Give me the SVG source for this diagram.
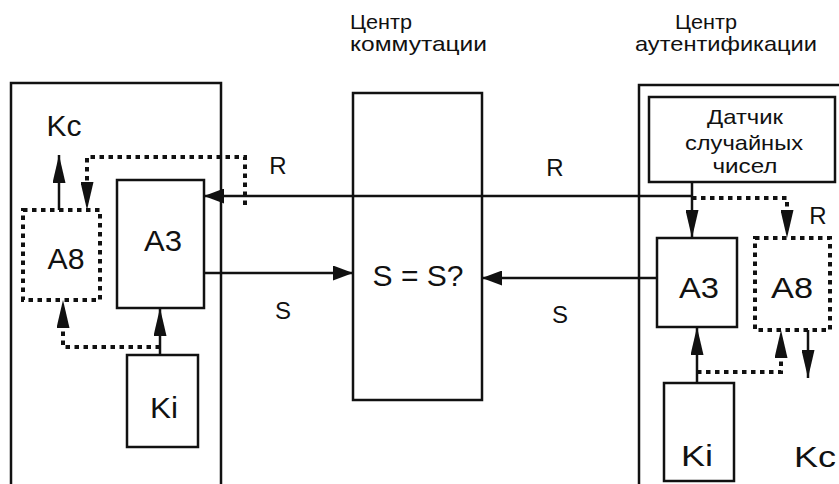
<svg xmlns="http://www.w3.org/2000/svg" width="839" height="484" viewBox="0 0 839 484">
<style>
text{font-family:"Liberation Sans",Arial,sans-serif;fill:#111}
.t{font-size:21px}
.b{font-size:29px;text-anchor:middle}
.l{font-size:24px;text-anchor:middle}
.box{fill:none;stroke:#111;stroke-width:2.5}
.dot{fill:none;stroke:#111;stroke-width:4;stroke-dasharray:4.5 4.5}
.ln{fill:none;stroke:#111;stroke-width:2.5}
.dl{fill:none;stroke:#111;stroke-width:4;stroke-dasharray:4.5 4.5}
</style>
<defs>
<marker id="ah" viewBox="0 0 20 15" markerWidth="20" markerHeight="15" refX="20" refY="7.5" orient="auto" markerUnits="userSpaceOnUse"><path d="M0,0 L20,7.5 L0,15 z" fill="#111"/></marker>
<marker id="av" viewBox="0 0 28 13" markerWidth="28" markerHeight="13" refX="28" refY="6.5" orient="auto" markerUnits="userSpaceOnUse"><path d="M0,0 L28,6.5 L0,13 z" fill="#111"/></marker>
<marker id="avd" viewBox="0 0 28 13" markerWidth="28" markerHeight="13" refX="0" refY="6.5" orient="auto" markerUnits="userSpaceOnUse"><path d="M0,0 L28,6.5 L0,13 z" fill="#111"/></marker>
</defs>
<rect width="839" height="484" fill="#fff"/>

<g id="titles">
<text class="t" x="350" y="29" textLength="62" lengthAdjust="spacingAndGlyphs">Центр</text>
<text class="t" x="350" y="51" textLength="137" lengthAdjust="spacingAndGlyphs">коммутации</text>
<text class="t" x="675" y="29" textLength="62" lengthAdjust="spacingAndGlyphs">Центр</text>
<text class="t" x="635" y="51" textLength="182" lengthAdjust="spacingAndGlyphs">аутентификации</text>
</g>

<g id="mobile-frame"><path class="box" d="M11,490 V83 H221 V490"/></g>
<g id="auc-frame"><path class="box" d="M639,490 V85 H845"/></g>

<g id="left-a3"><rect class="box" x="117" y="180" width="87" height="128"/><text class="b" x="163" y="251" textLength="38" lengthAdjust="spacingAndGlyphs">A3</text></g>
<g id="left-a8"><rect class="dot" x="23" y="210" width="77" height="90"/><text class="b" x="66" y="269" textLength="37" lengthAdjust="spacingAndGlyphs">A8</text></g>
<g id="left-ki"><rect class="box" x="127" y="355" width="71" height="92"/><text class="b" x="164" y="418" textLength="28" lengthAdjust="spacingAndGlyphs">Ki</text></g>
<g id="left-kc"><text class="b" x="64" y="136" textLength="35" lengthAdjust="spacingAndGlyphs">Kc</text></g>

<g id="msc"><rect class="box" x="353" y="93" width="129" height="307"/><text x="418" y="286" font-size="30" text-anchor="middle">S = S?</text></g>

<g id="rng"><rect class="box" x="649" y="97" width="186" height="85"/>
<text class="t" x="745" y="124" text-anchor="middle" textLength="76" lengthAdjust="spacingAndGlyphs">Датчик</text>
<text class="t" x="744" y="150" text-anchor="middle" textLength="118" lengthAdjust="spacingAndGlyphs">случайных</text>
<text class="t" x="745" y="173" text-anchor="middle" textLength="65" lengthAdjust="spacingAndGlyphs">чисел</text></g>
<g id="right-a3"><rect class="box" x="657" y="238" width="80" height="89"/><text class="b" x="699" y="298" textLength="40" lengthAdjust="spacingAndGlyphs">A3</text></g>
<g id="right-a8"><rect class="dot" x="755" y="238" width="75" height="92"/><text class="b" x="792" y="298" textLength="42" lengthAdjust="spacingAndGlyphs">A8</text></g>
<g id="right-ki"><rect class="box" x="664" y="383" width="70" height="98"/><text class="b" x="697" y="466" textLength="32" lengthAdjust="spacingAndGlyphs">Ki</text></g>
<g id="right-kc"><text class="b" x="815" y="467" textLength="42" lengthAdjust="spacingAndGlyphs">Kc</text></g>

<g id="connectors">
<path class="ln" d="M692,196 H204" marker-end="url(#ah)"/>
<path class="ln" d="M692,182 V238" marker-end="url(#av)"/>
<path class="ln" d="M204,273 H353" marker-end="url(#ah)"/>
<path class="ln" d="M657,278 H482" marker-end="url(#ah)"/>
<path class="ln" d="M160,355 V308" marker-end="url(#av)"/>
<path class="ln" d="M59,210 V155" marker-end="url(#av)"/>
<path class="ln" d="M697,383 V327" marker-end="url(#av)"/>
<path class="ln" d="M808,330 V378" marker-end="url(#av)"/>
<path class="dl" d="M245,205 V157 H87 V182" marker-end="url(#avd)"/>
<path class="dl" d="M160,347 H63 V328" marker-end="url(#avd)"/>
<path class="dl" d="M692,198 H787 V210" marker-end="url(#avd)"/>
<path class="dl" d="M697,372 H781 V358" marker-end="url(#avd)"/>
<text class="l" x="278" y="174">R</text>
<text class="l" x="555" y="176">R</text>
<text class="l" x="818" y="224">R</text>
<text class="l" x="283" y="319">S</text>
<text class="l" x="560" y="323">S</text>
</g>
</svg>
